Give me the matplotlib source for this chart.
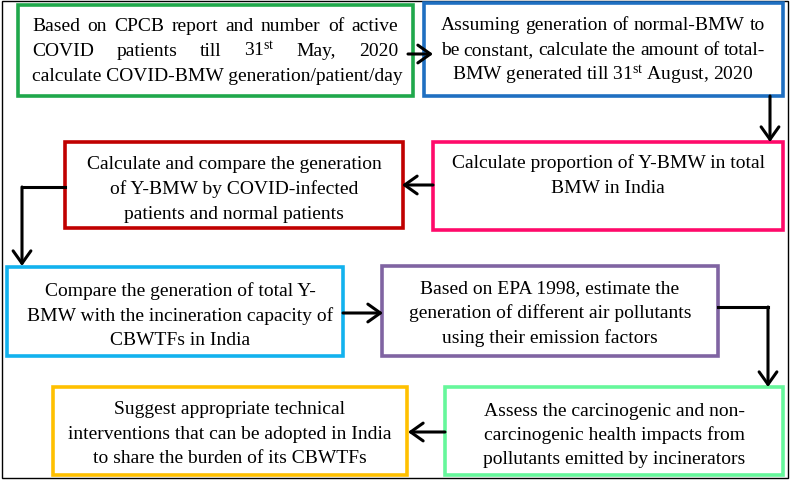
import matplotlib.pyplot as plt
from matplotlib.patches import Rectangle, FancyArrowPatch

plt.rcParams['font.family'] = 'Liberation Serif'
plt.rcParams['mathtext.fontset'] = 'custom'
plt.rcParams['mathtext.rm'] = 'Liberation Serif'
plt.rcParams['mathtext.it'] = 'Liberation Serif:italic'

# text of each step
step_text = [
    ["Based on CPCB report and number of active",
     "COVID patients till 31$^{\\mathrm{st}}$ May, 2020",
     "calculate COVID-BMW generation/patient/day"],
    ["Assuming generation of normal-BMW to",
     "be constant, calculate the amount of total-",
     "BMW generated till 31$^{\\mathrm{st}}$ August, 2020"],
    ["Calculate proportion of Y-BMW in total",
     "BMW in India"],
    ["Calculate and compare the generation",
     "of Y-BMW by COVID-infected",
     "patients and normal patients"],
    ["Compare the generation of total Y-",
     "BMW with the incineration capacity of",
     "CBWTFs in India"],
    ["Based on EPA 1998, estimate the",
     "generation of different air pollutants",
     "using their emission factors"],
    ["Assess the carcinogenic and non-",
     "carcinogenic health impacts from",
     "pollutants emitted by incinerators"],
    ["Suggest appropriate technical",
     "interventions that can be adopted in India",
     "to share the burden of its CBWTFs"],
]
step_colors = ["#1fa84b", "#1f6fc1", "#ff0a6a", "#c00000",
               "#12b2ee", "#8064a2", "#66f79b", "#ffc000"]

# layout in pixels (left, top, right, bottom)
boxes = [(18, 6, 413, 97), (424, 4, 783, 97), (433, 143, 783, 231),
         (65, 143, 403, 229), (7, 268, 343, 357), (382, 267, 718, 357),
         (445, 388, 783, 476), (53, 388, 407, 476)]
line_y = [[25, 50, 75], [24, 49, 74], [162, 187], [163, 188, 213],
          [290, 315, 339], [287, 312, 337], [410, 434, 458], [408, 433, 457]]
line_mode = [['j', 'j', 'l'], ['j', 'j', 'c'], ['c', 'c'], ['c', 'c', 'c'],
             ['c', 'c', 'c'], ['c', 'c', 'c'], ['c', 'c', 'c'], ['c', 'c', 'c']]
text_span = [(32, 398), (441, 765), (433, 783), (65, 403),
             (20, 340), (382, 718), (445, 783), (53, 407)]

arrows = [[(408, 55), (433, 55)],
          [(770, 97), (770, 143)],
          [(433, 186), (402, 186)],
          [(65, 188), (22, 188), (22, 267)],
          [(343, 314), (383, 314)],
          [(718, 308), (768, 308), (768, 388)],
          [(445, 433), (408, 433)]]

fig = plt.figure(figsize=(7.9, 4.81), dpi=100)
ax = fig.add_axes([0, 0, 1, 1])
ax.set_xlim(0, 790)
ax.set_ylim(481, 0)
ax.axis('off')

FS = 14
renderer = fig.canvas.get_renderer()


def put_line(s, y, x0, x1, mode):
    yb = y + 6
    if mode == 'c':
        ax.text((x0 + x1) / 2, yb, s, ha='center', va='baseline', fontsize=FS)
    elif mode == 'l':
        ax.text(x0, yb, s, ha='left', va='baseline', fontsize=FS)
    else:
        words = s.split(' ')
        ts = [ax.text(0, yb, w, ha='left', va='baseline', fontsize=FS) for w in words]
        widths = [t.get_window_extent(renderer).width for t in ts]
        gap = (x1 - x0 - sum(widths)) / (len(words) - 1)
        x = x0
        for t, w in zip(ts, widths):
            t.set_x(x)
            x += w + gap


ax.add_patch(Rectangle((2, 2), 786, 477, fill=False, ec='black', lw=1))

for lines, col, (l, t, r, b), ys, modes, (x0, x1) in zip(
        step_text, step_colors, boxes, line_y, line_mode, text_span):
    ax.add_patch(Rectangle((l, t), r - l, b - t, fill=False, ec=col, lw=2.6))
    for s, y, m in zip(lines, ys, modes):
        put_line(s, y, x0, x1, m)

for pts in arrows:
    xs = [p[0] for p in pts]
    ys = [p[1] for p in pts]
    if len(pts) > 2:
        ax.plot(xs[:-1], ys[:-1], color='black', lw=2.2, solid_capstyle='projecting')
    ax.add_patch(FancyArrowPatch(pts[-2], pts[-1],
                                 arrowstyle='->,head_length=0.45,head_width=0.32',
                                 mutation_scale=20, color='black', lw=2.2,
                                 shrinkA=0, shrinkB=0))

fig.savefig('out.png', dpi=100)
